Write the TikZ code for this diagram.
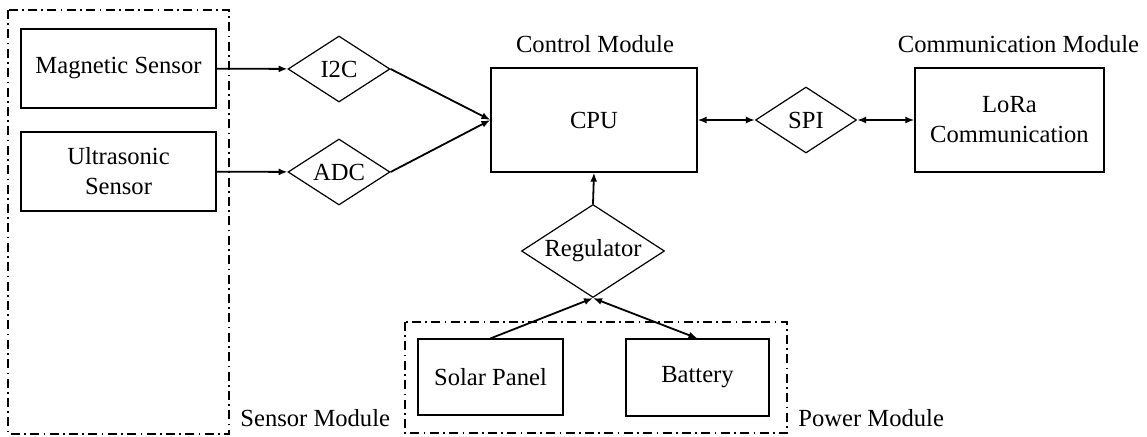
\documentclass[tikz,border=0pt]{standalone}
\usepackage{fontspec}
\setmainfont{Liberation Serif}
\usetikzlibrary{shapes.geometric,arrows.meta}
\tikzset{
  blockbox/.style={draw, line width=0.6pt, align=center, inner sep=0pt},
  gatebox/.style={draw, diamond, line width=0.6pt, inner sep=0pt, aspect=1.5},
  modframe/.style={line width=0.8pt, dash pattern=on 4.5pt off 2.2pt on 0.8pt off 2.2pt},
  link/.style={line width=0.9pt, -{Latex[length=4.5pt,width=3.5pt]}},
  duplex/.style={line width=0.9pt, {Latex[length=4.5pt,width=3.5pt]}-{Latex[length=4.5pt,width=3.5pt]}},
  modlabel/.style={inner sep=0pt}
}
\begin{document}
\begin{tikzpicture}[x=0.5pt,y=-0.5pt,font=\fontsize{12.3}{15}\selectfont]
\useasboundingbox (0,0) rectangle (1147,436);
% module frames
\draw[modframe] (8,10) rectangle (229,434);
\draw[modframe] (405,322) rectangle (787,433);
\node[modlabel, anchor=west] (sensorlbl) at (240,418) {Sensor Module};
\node[modlabel, anchor=west] (powerlbl) at (798,418) {Power Module};
\node[modlabel] (controllbl) at (595,44) {Control Module};
\node[modlabel] (commlbl) at (1018.5,44) {Communication Module};
% blocks
\node[blockbox, minimum width=97.5pt, minimum height=39.5pt] (magnetic) at (118.5,68.5)
{Magnetic Sensor};
\node[blockbox, minimum width=97.5pt, minimum height=39.5pt] (ultrasonic) at (118.5,171.5)
{Ultrasonic\\Sensor};
\node[blockbox, minimum width=103pt, minimum height=52pt] (cpu) at (594,120)
{CPU};
\node[blockbox, minimum width=94.5pt, minimum height=52pt] (lora) at (1009.5,120)
{LoRa\\Communication};
\node[blockbox, minimum width=72.5pt, minimum height=38pt] (solar) at (490.5,377)
{Solar Panel};
\node[blockbox, minimum width=71.5pt, minimum height=38.5pt] (battery) at (697.5,377.5)
{Battery};
% interfaces
\node[gatebox, minimum width=51pt, minimum height=33pt] (itwoc) at (339,69) {I2C};
\node[gatebox, minimum width=51pt, minimum height=33pt] (adc) at (339,172) {ADC};
\node[gatebox, minimum width=50.5pt, minimum height=33pt] (spi) at (806,120) {SPI};
\node[gatebox, minimum width=71.5pt, minimum height=46.5pt] (regulator) at (593,251) {Regulator};
% connections
\draw[link] (magnetic) -- (itwoc);
\draw[link] (ultrasonic) -- (adc);
\draw[link] (itwoc.east) -- (cpu.west);
\draw[link] (adc.east) -- (cpu.west);
\draw[duplex] (cpu) -- (spi);
\draw[duplex] (spi) -- (lora);
\draw[link] (regulator.north) -- (cpu.south);
\draw[link] (solar.north) -- (regulator.south);
\draw[duplex] (regulator.south) -- (battery.north);
\end{tikzpicture}
\end{document}
